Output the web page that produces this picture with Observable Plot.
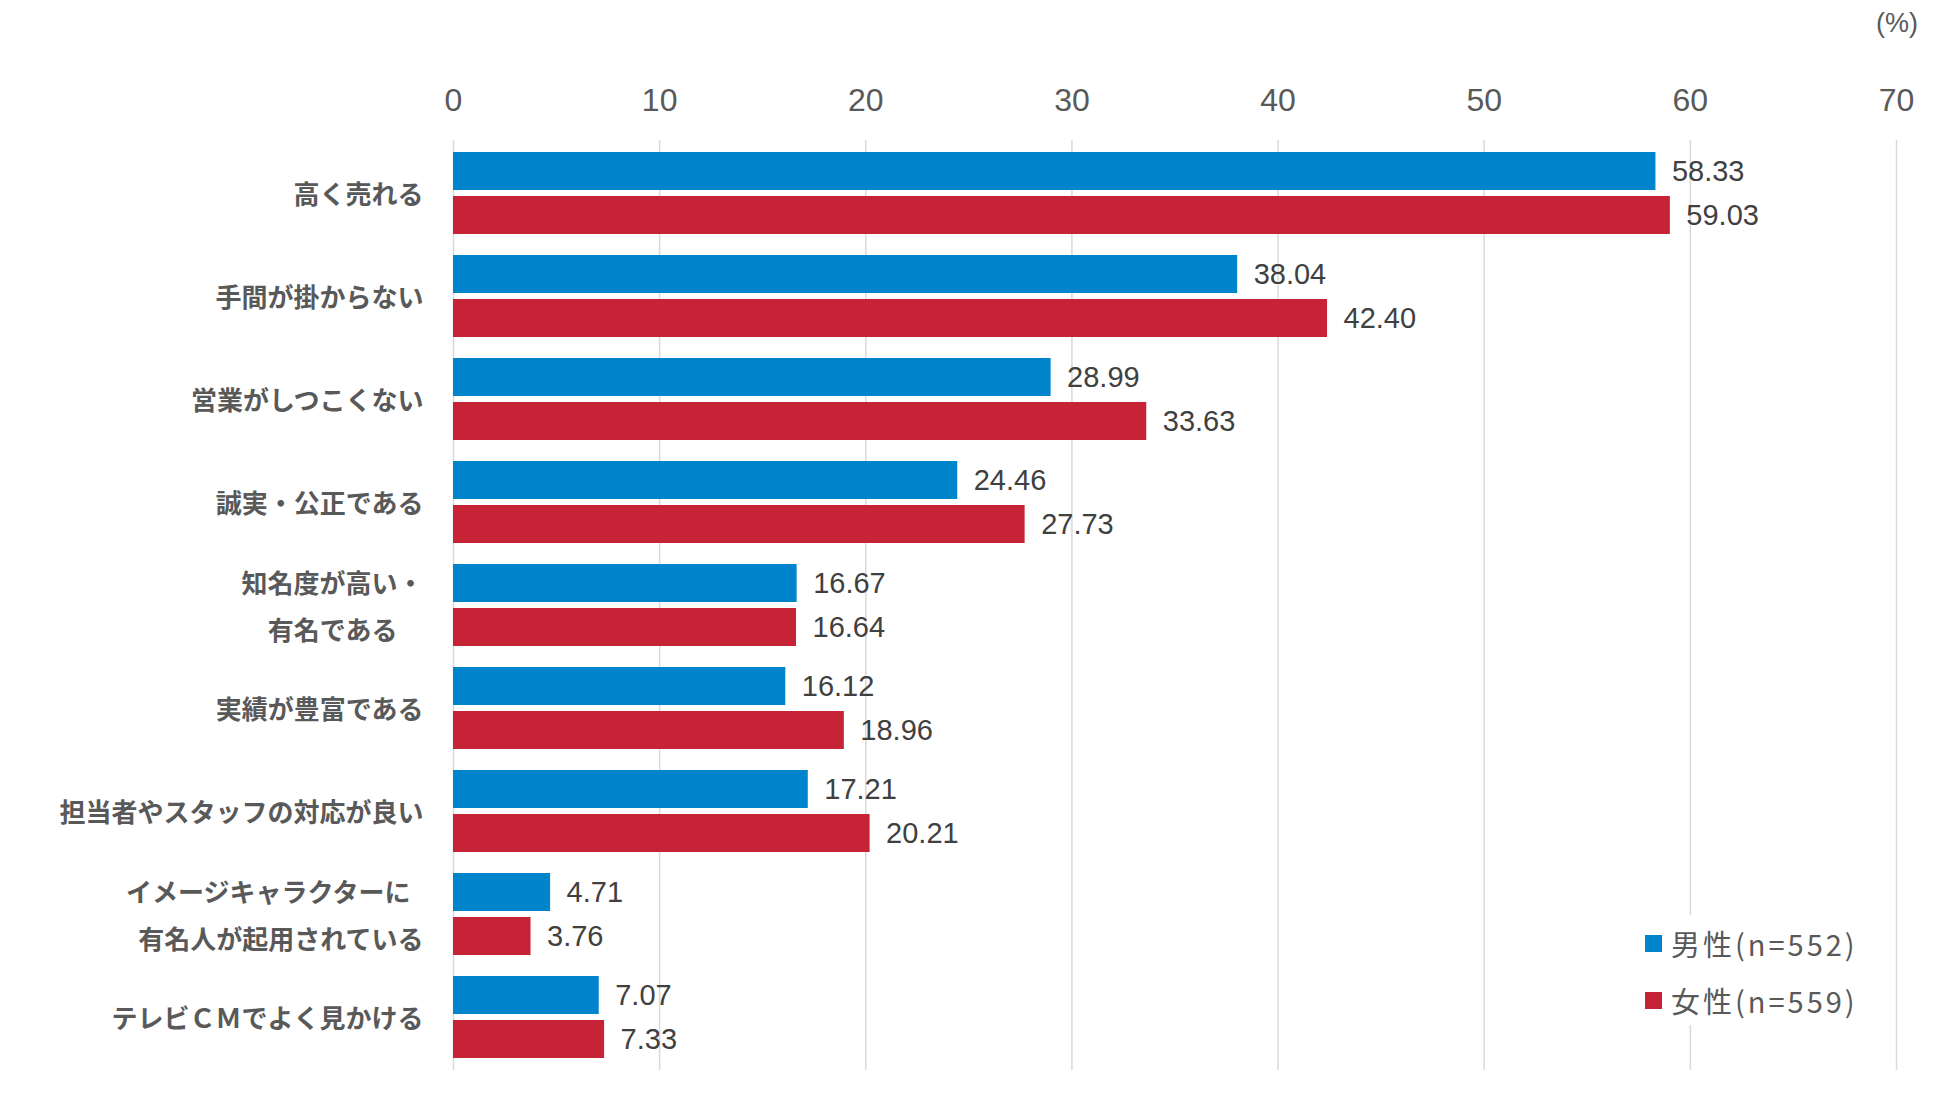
<!DOCTYPE html>
<html>
<head>
<meta charset="utf-8">
<script src="https://cdn.jsdelivr.net/npm/d3@7"></script>
<script src="https://cdn.jsdelivr.net/npm/@observablehq/plot@0.6"></script>
<style>
  html, body { margin: 0; padding: 0; background: #fff; }
  #wrap { position: relative; width: 1950px; height: 1097px; overflow: hidden; }
  #unit { position: absolute; left: 1876px; top: 8px; font: 27px "Liberation Sans", Arial, sans-serif; color: #595959; }
  #legend { position: absolute; left: 1640px; top: 915px; width: 245px; height: 110px; background: #fff;
            font-family: "Noto Sans CJK JP", sans-serif; font-size: 29px; letter-spacing: 3px; color: #595959; }
  .sw { position: absolute; left: 5px; width: 17px; height: 17px; }
  .lbl { position: absolute; left: 31px; line-height: 40px; height: 40px; white-space: nowrap; }
</style>
</head>
<body>
<div id="wrap">
  <div id="chart"></div>
  <div id="unit">(%)</div>
  <div id="legend"></div>
</div>
<script>
const categories = ["高く売れる", "手間が掛からない", "営業がしつこくない", "誠実・公正である", "知名度が高い・有名である", "実績が豊富である", "担当者やスタッフの対応が良い", "イメージキャラクターに有名人が起用されている", "テレビＣＭでよく見かける"];
const categoryLabels = ["高く売れる", "手間が掛からない", "営業がしつこくない", "誠実・公正である", "知名度が高い・\n有名である\u3000", "実績が豊富である", "担当者やスタッフの対応が良い", "イメージキャラクターに\u2002\n有名人が起用されている", "テレビＣＭでよく見かける"];
const seriesNames = ["男性(n=552)", "女性(n=559)"];
const male = [58.33, 38.04, 28.99, 24.46, 16.67, 16.12, 17.21, 4.71, 7.07];
const female = [59.03, 42.40, 33.63, 27.73, 16.64, 18.96, 20.21, 3.76, 7.33];
const xTicks = [0, 10, 20, 30, 40, 50, 60, 70];
const colors = ["#0084CB", "#C62337"];

const maleRows = categories.map((c, i) => ({category: c, value: male[i]}));
const femaleRows = categories.map((c, i) => ({category: c, value: female[i]}));

const chart = Plot.plot({
  width: 1950,
  height: 1097,
  marginLeft: 453,
  marginRight: 54,
  marginTop: 140,
  marginBottom: 27,
  style: {background: "#fff", fontFamily: "'Liberation Sans', Arial, sans-serif"},
  x: {domain: [0, 70]},
  y: {domain: categories, paddingInner: 0.2, paddingOuter: 0.08, axis: null},
  marks: [
    Plot.gridX(xTicks, {stroke: "#d9d9d9", strokeOpacity: 1, strokeWidth: 1.5}),
    Plot.axisX(xTicks, {anchor: "top", tickSize: 0, tickPadding: 30, fontSize: 32, fill: "#595959", label: null}),
    Plot.barX(maleRows, {x: "value", y: "category", fill: colors[0], insetBottom: 44}),
    Plot.barX(femaleRows, {x: "value", y: "category", fill: colors[1], insetTop: 44}),
    Plot.text(maleRows, {x: "value", y: "category", text: d => d.value.toFixed(2), textAnchor: "start", dx: 16, dy: -22, fontSize: 29, fill: "#404040"}),
    Plot.text(femaleRows, {x: "value", y: "category", text: d => d.value.toFixed(2), textAnchor: "start", dx: 16, dy: 22, fontSize: 29, fill: "#404040"}),
    Plot.text(categories, {y: d => d, text: (d, i) => categoryLabels[i], frameAnchor: "left", textAnchor: "end", dx: -30, dy: -4, fontSize: 26, fontWeight: "bold", fill: "#595959", lineHeight: 1.8, fontFamily: "'Noto Sans CJK JP', sans-serif"})
  ]
});
document.getElementById("chart").appendChild(chart);

const legend = document.getElementById("legend");
seriesNames.forEach((name, i) => {
  const sw = document.createElement("div");
  sw.className = "sw";
  sw.style.top = (20 + i * 57) + "px";
  sw.style.background = colors[i];
  const label = document.createElement("div");
  label.className = "lbl";
  label.style.top = (8 + i * 57) + "px";
  label.textContent = name;
  legend.appendChild(sw);
  legend.appendChild(label);
});
</script>
</body>
</html>
